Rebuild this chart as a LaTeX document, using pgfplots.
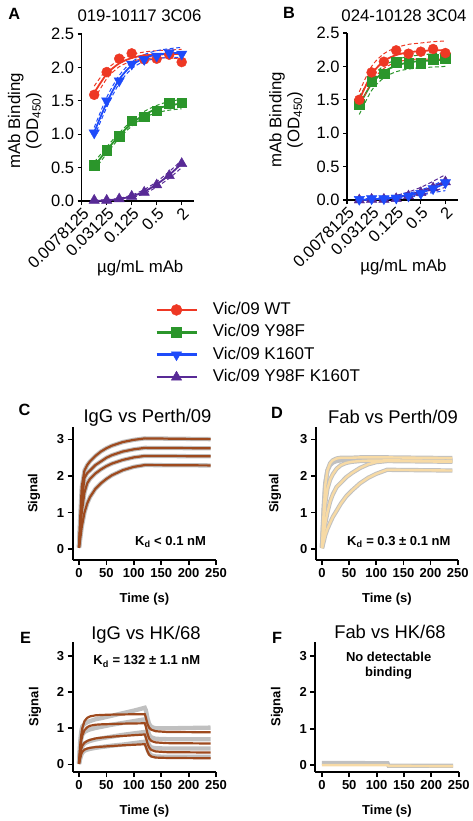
\documentclass[border=0pt]{standalone}
\usepackage{fontspec}
\setmainfont{Liberation Sans}
\usepackage{pgfplots}
\pgfplotsset{compat=1.18}
\usepackage{pgfplotstable}

\definecolor{cRed}{RGB}{238,56,36}
\definecolor{cGreen}{RGB}{43,150,43}
\definecolor{cBlue}{RGB}{30,75,250}
\definecolor{cPurple}{RGB}{88,42,150}
\definecolor{cBrown}{RGB}{158,74,30}
\definecolor{cGray}{RGB}{192,192,192}
\definecolor{cYellow}{RGB}{247,218,165}

% ---------- ELISA data ----------
\pgfplotstableread{
x        wt   y98f  k160t  dbl
0.015625 1.59 0.54  1.02   0.01
0.03125  1.93 0.76  1.50   0.01
0.0625   2.13 0.97  1.80   0.03
0.125    2.21 1.20  2.05   0.07
0.25     2.12 1.26  2.12   0.13
0.5      2.13 1.35  2.17   0.24
1        2.19 1.46  2.22   0.38
2        2.08 1.47  2.20   0.56
}\dataA
\pgfplotstableread{
x        wt   wtU  wtL  y98f y98fU y98fL k160t k160tU k160tL dbl  dblU dblL
0.015625 1.62 1.72 1.52 0.52 0.58  0.46  1.03  1.10   0.96   0.00 0.01 0.00
0.03125  1.90 1.97 1.83 0.76 0.81  0.71  1.47  1.55   1.40   0.01 0.02 0.00
0.0625   2.06 2.11 2.01 0.98 1.02  0.94  1.82  1.88   1.76   0.03 0.04 0.02
0.125    2.14 2.19 2.09 1.16 1.20  1.12  2.03  2.08   1.98   0.07 0.09 0.05
0.25     2.18 2.23 2.13 1.29 1.34  1.25  2.14  2.19   2.09   0.14 0.17 0.11
0.5      2.19 2.25 2.14 1.38 1.43  1.32  2.19  2.25   2.13   0.25 0.29 0.21
1        2.20 2.26 2.14 1.43 1.49  1.36  2.21  2.28   2.15   0.39 0.44 0.34
2        2.20 2.27 2.13 1.46 1.52  1.38  2.22  2.30   2.15   0.56 0.61 0.50
}\fitA
\pgfplotstableread{
x        wt   y98f  k160t  dbl
0.015625 1.50 1.43  0.01   0.00
0.03125  1.91 1.78  0.02   0.01
0.0625   2.07 1.89  0.02   0.01
0.125    2.24 2.06  0.03   0.02
0.25     2.19 2.05  0.06   0.06
0.5      2.22 2.05  0.10   0.11
1        2.26 2.11  0.17   0.18
2        2.20 2.12  0.26   0.27
}\dataB
\pgfplotstableread{
x        wt   wtU  wtL  y98f y98fU y98fL k160t k160tU k160tL dbl  dblU dblL
0.015625 1.50 1.62 1.38 1.42 1.55  1.28  0.00  0.01   0.00   0.00 0.01 0.00
0.03125  1.88 2.00 1.77 1.74 1.84  1.64  0.01  0.02   0.00   0.01 0.02 0.00
0.0625   2.08 2.19 1.97 1.92 2.01  1.83  0.02  0.04   0.01   0.02 0.04 0.01
0.125    2.17 2.28 2.06 2.01 2.10  1.92  0.04  0.06   0.02   0.04 0.07 0.02
0.25     2.21 2.33 2.10 2.06 2.15  1.96  0.07  0.10   0.04   0.08 0.12 0.05
0.5      2.23 2.35 2.11 2.08 2.17  1.98  0.11  0.15   0.07   0.13 0.19 0.08
1        2.24 2.37 2.11 2.09 2.19  1.99  0.17  0.22   0.11   0.20 0.28 0.13
2        2.24 2.38 2.11 2.10 2.20  2.00  0.25  0.31   0.14   0.28 0.38 0.19
}\fitB

% ---------- kinetics data ----------
\pgfplotstableread{
t   c1   c2   c3   c4
0   0.05 0.05 0.05 0.03
2   0.80 0.60 0.45 0.25
5   1.70 1.30 1.00 0.60
10  2.15 1.95 1.55 1.00
15  2.30 2.08 1.80 1.25
20  2.40 2.15 1.92 1.42
30  2.55 2.30 2.07 1.65
40  2.67 2.40 2.18 1.80
50  2.76 2.50 2.27 1.92
60  2.83 2.57 2.34 2.02
80  2.93 2.67 2.44 2.16
100 2.99 2.73 2.51 2.25
120 3.03 2.77 2.55 2.30
240 3.01 2.76 2.54 2.29
}\kinC
\pgfplotstableread{
t   d1   d2   d3   d4   gx
0   0.05 0.05 0.03 0.02 0.05
3   1.00 0.70 0.35 0.20 1.10
6   1.75 1.25 0.70 0.38 1.80
10  2.15 1.65 1.00 0.55 2.15
15  2.35 1.90 1.30 0.72 2.30
20  2.43 2.05 1.50 0.88 2.37
27  2.48 2.20 1.70 1.05 2.41
35  2.50 2.30 1.82 1.25 2.43
45  2.50 2.36 1.97 1.45 2.44
55  2.50 2.39 2.08 1.60 2.44
70  2.51 2.41 2.22 1.80 2.45
85  2.51 2.42 2.32 1.95 2.45
100 2.51 2.42 2.38 2.06 2.45
120 2.51 2.43 2.41 2.17 2.45
240 2.49 2.41 2.39 2.15 2.43
}\kinD
\pgfplotstableread{
t   e1    e2    e3   e4    g1   g2   g3   g4
0   0.05  0.03  0.02 0.01  0.05 0.03 0.02 0.01
2   0.50  0.40  0.25 0.15  0.60 0.45 0.25 0.15
4   0.80  0.65  0.42 0.28  0.90 0.70 0.40 0.25
6   1.00  0.80  0.52 0.35  1.05 0.82 0.50 0.32
10  1.20  0.95  0.60 0.41  1.12 0.90 0.58 0.38
15  1.29  1.03  0.65 0.44  1.17 0.94 0.62 0.41
20  1.33  1.07  0.68 0.46  1.20 0.97 0.65 0.43
30  1.36  1.10  0.72 0.48  1.25 1.01 0.69 0.46
40  1.37  1.11  0.74 0.49  1.28 1.04 0.72 0.48
60  1.38  1.12  0.77 0.51  1.35 1.10 0.77 0.52
80  1.385 1.13  0.79 0.53  1.42 1.15 0.82 0.55
100 1.39  1.135 0.81 0.545 1.49 1.20 0.86 0.59
120 1.39  1.14  0.83 0.56  1.57 1.25 0.90 0.63
122 1.30  1.05  0.75 0.49  1.50 1.17 0.82 0.56
125 1.12  0.85  0.58 0.36  1.28 0.97 0.64 0.41
128 1.02  0.72  0.47 0.27  1.12 0.82 0.53 0.31
132 0.96  0.65  0.40 0.22  1.04 0.75 0.47 0.25
140 0.92  0.61  0.36 0.19  1.00 0.71 0.45 0.22
160 0.90  0.59  0.34 0.18  1.00 0.70 0.44 0.21
240 0.89  0.58  0.33 0.17  1.02 0.70 0.44 0.21
}\kinE
\pgfplotstableread{
t   gr    ye
0   0.06  0.00
60  0.055 0.00
120 0.05  0.00
122 -0.02 -0.02
240 -0.02 -0.03
}\kinF

\pgfplotsset{
  elisa/.style={scale only axis, axis lines=left, axis line style={-, line width=1.3pt},
    tick align=outside, major tick length=4pt, tick style={line width=1.3pt, black},
    xminorticks=false, ymin=0, ymax=2.5, xmin=0.0078125, xmax=4,
    ytick={0,0.5,1,1.5,2,2.5},
    xtick={0.0078125,0.03125,0.125,0.5,2},
    xticklabels={0.0078125,0.03125,0.125,0.5,2},
    x tick label style={rotate=45, anchor=north east, inner sep=1pt},
    yticklabel style={/pgf/number format/fixed, /pgf/number format/fixed zerofill, /pgf/number format/precision=1},
    tick label style={font=\fontsize{16.5}{18}\selectfont},
    label style={font=\fontsize{16.8}{18}\selectfont},
    ylabel={mAb Binding\\(OD\textsubscript{450})},
    ylabel style={align=center, anchor=center},
    xlabel={µg/mL mAb},
    clip=false},
  fitl/.style={line width=1.8pt, smooth, no markers},
  cil/.style={line width=1.0pt, dash pattern=on 4pt off 2.5pt, smooth, no markers},
  kin/.style={scale only axis, axis lines=left, axis line style={-, line width=1.8pt},
    tick align=outside, major tick length=5pt, tick style={line width=1.8pt, black},
    xmax=250, xtick={0,50,100,150,200,250}, ytick={0,1,2,3},
    tick label style={font=\fontsize{13}{15}\selectfont\bfseries},
    label style={font=\fontsize{13}{15}\selectfont\bfseries},
    ylabel={Signal}, xlabel={Time (s)},
    ylabel style={anchor=center},
    xlabel style={at={(axis description cs:0.5,0)}, anchor=center, yshift=-39pt},
    clip=false},
  gline/.style={cGray, line width=4.3pt, no markers},
  bline/.style={cBrown, line width=2.2pt, no markers},
  yline/.style={cYellow, line width=2.4pt, no markers},
}

\begin{document}
\begin{tikzpicture}[x=1pt,y=1pt]
\useasboundingbox (0,0) rectangle (473,-821);

% ================= A =================
\begin{axis}[elisa, xmode=log, log basis x=2, /pgf/number format/assume math mode=true,
  at={(81.7pt,-201pt)}, anchor=south west, width=112.5pt, height=167pt,
  ylabel style={at={([xshift=-57pt]axis description cs:0,0.48)}},
  xlabel style={at={(axis description cs:0.52,0)}, anchor=center, yshift=-67pt}]
\addplot[cPurple, cil] table[x=x,y=dblU]{\fitA};
\addplot[cPurple, cil] table[x=x,y=dblL]{\fitA};
\addplot[cPurple, fitl] table[x=x,y=dbl]{\fitA};
\addplot[cPurple, only marks, mark size=6pt, mark=triangle*] table[x=x,y=dbl]{\dataA};
\addplot[cGreen, cil] table[x=x,y=y98fU]{\fitA};
\addplot[cGreen, cil] table[x=x,y=y98fL]{\fitA};
\addplot[cGreen, fitl] table[x=x,y=y98f]{\fitA};
\addplot[cGreen, only marks, mark size=4.8pt, mark=square*] table[x=x,y=y98f]{\dataA};
\addplot[cRed, cil] table[x=x,y=wtU]{\fitA};
\addplot[cRed, cil] table[x=x,y=wtL]{\fitA};
\addplot[cRed, fitl] table[x=x,y=wt]{\fitA};
\addplot[cRed, only marks, mark size=5pt, mark=*] table[x=x,y=wt]{\dataA};
\addplot[cBlue, cil] table[x=x,y=k160tU]{\fitA};
\addplot[cBlue, cil] table[x=x,y=k160tL]{\fitA};
\addplot[cBlue, fitl] table[x=x,y=k160t]{\fitA};
\addplot[cBlue, only marks, mark size=6pt, mark=triangle*, mark options={rotate=180}] table[x=x,y=k160t]{\dataA};
\end{axis}

% ================= B =================
\begin{axis}[elisa, xmode=log, log basis x=2, /pgf/number format/assume math mode=true,
  at={(347pt,-200pt)}, anchor=south west, width=110.7pt, height=167pt,
  ylabel style={at={([xshift=-61pt]axis description cs:0,0.48)}},
  xlabel style={at={(axis description cs:0.51,0)}, anchor=center, yshift=-67pt}]
\addplot[cPurple, cil] table[x=x,y=dblU]{\fitB};
\addplot[cPurple, cil] table[x=x,y=dblL]{\fitB};
\addplot[cPurple, fitl] table[x=x,y=dbl]{\fitB};
\addplot[cPurple, only marks, mark size=6pt, mark=triangle*] table[x=x,y=dbl]{\dataB};
\addplot[cBlue, cil] table[x=x,y=k160tU]{\fitB};
\addplot[cBlue, cil] table[x=x,y=k160tL]{\fitB};
\addplot[cBlue, fitl] table[x=x,y=k160t]{\fitB};
\addplot[cBlue, only marks, mark size=6pt, mark=triangle*, mark options={rotate=180}] table[x=x,y=k160t]{\dataB};
\addplot[cGreen, cil] table[x=x,y=y98fU]{\fitB};
\addplot[cGreen, cil] table[x=x,y=y98fL]{\fitB};
\addplot[cGreen, fitl] table[x=x,y=y98f]{\fitB};
\addplot[cGreen, only marks, mark size=4.8pt, mark=square*] table[x=x,y=y98f]{\dataB};
\addplot[cRed, cil] table[x=x,y=wtU]{\fitB};
\addplot[cRed, cil] table[x=x,y=wtL]{\fitB};
\addplot[cRed, fitl] table[x=x,y=wt]{\fitB};
\addplot[cRed, only marks, mark size=5pt, mark=*] table[x=x,y=wt]{\dataB};
\end{axis}

% ================= Legend =================
\begin{axis}[hide axis, scale only axis, width=10pt, height=10pt,
  at={(155pt,-301pt)}, anchor=north west, xmin=0, xmax=1, ymin=0, ymax=1,
  legend cell align=left,
  legend image code/.code={\draw[mark repeat=2, mark phase=2, #1] plot coordinates {(0pt,0pt) (20pt,0pt) (40pt,0pt)};},
  legend style={draw=none, fill=none, at={(0,1)}, anchor=north west, inner sep=0pt,
    column sep=14pt, row sep=4.9pt,
    nodes={inner sep=1pt, text height=12pt, text depth=3.5pt},
    font=\fontsize{17}{19}\selectfont}]
\addlegendimage{cRed, line width=2.6pt, mark=*, mark size=5.5pt, mark options={line width=0.4pt}}
\addlegendentry{Vic/09 WT}
\addlegendimage{cGreen, line width=2.6pt, mark=square*, mark size=5pt, mark options={line width=0.4pt}}
\addlegendentry{Vic/09 Y98F}
\addlegendimage{cBlue, line width=2.6pt, mark=triangle*, mark size=6pt, mark options={line width=0.4pt, rotate=180}}
\addlegendentry{Vic/09 K160T}
\addlegendimage{cPurple, line width=2.6pt, mark=triangle*, mark size=6pt, mark options={line width=0.4pt}}
\addlegendentry{Vic/09 Y98F K160T}
\end{axis}

% ================= C =================
\begin{axis}[kin, /pgf/number format/assume math mode=true,
  at={(72.7pt,-560pt)}, anchor=south west, width=143.3pt, height=133.3pt,
  xmin=-11.5, ymin=-0.3, ymax=3.35,
  ylabel style={at={([xshift=-38.7pt]axis description cs:0,0.5)}}]
\addplot[gline] table[x=t,y=c1]{\kinC};
\addplot[gline] table[x=t,y=c2]{\kinC};
\addplot[gline] table[x=t,y=c3]{\kinC};
\addplot[gline] table[x=t,y=c4]{\kinC};
\addplot[bline] table[x=t,y=c1]{\kinC};
\addplot[bline] table[x=t,y=c2]{\kinC};
\addplot[bline] table[x=t,y=c3]{\kinC};
\addplot[bline] table[x=t,y=c4]{\kinC};
\node[anchor=east, font=\fontsize{13}{15}\selectfont\bfseries] at (axis cs:238,0.2) {K\textsubscript{d} < 0.1 nM};
\end{axis}

% ================= D =================
\begin{axis}[kin, /pgf/number format/assume math mode=true,
  at={(316pt,-560pt)}, anchor=south west, width=141.7pt, height=133.3pt,
  xmin=-11, ymin=-0.3, ymax=3.35,
  ylabel style={at={([xshift=-41pt]axis description cs:0,0.5)}}]
\addplot[gline] table[x=t,y=gx]{\kinD};
\addplot[gline] table[x=t,y=d1]{\kinD};
\addplot[gline] table[x=t,y=d2]{\kinD};
\addplot[gline] table[x=t,y=d3]{\kinD};
\addplot[gline] table[x=t,y=d4]{\kinD};
\addplot[yline] table[x=t,y=d1]{\kinD};
\addplot[yline] table[x=t,y=d2]{\kinD};
\addplot[yline] table[x=t,y=d3]{\kinD};
\addplot[yline] table[x=t,y=d4]{\kinD};
\node[anchor=east, font=\fontsize{13}{15}\selectfont\bfseries] at (axis cs:243,0.2) {K\textsubscript{d} = 0.3 ± 0.1 nM};
\end{axis}

% ================= E =================
\begin{axis}[kin, /pgf/number format/assume math mode=true,
  at={(72.7pt,-772pt)}, anchor=south west, width=143.3pt, height=130.3pt,
  xmin=-11.5, ymin=-0.21, ymax=3.4,
  ylabel style={at={([xshift=-37.7pt]axis description cs:0,0.5)}}]
\addplot[gline] table[x=t,y=g1]{\kinE};
\addplot[gline] table[x=t,y=g2]{\kinE};
\addplot[gline] table[x=t,y=g3]{\kinE};
\addplot[gline] table[x=t,y=g4]{\kinE};
\addplot[bline] table[x=t,y=e1]{\kinE};
\addplot[bline] table[x=t,y=e2]{\kinE};
\addplot[bline] table[x=t,y=e3]{\kinE};
\addplot[bline] table[x=t,y=e4]{\kinE};
\node[anchor=west, font=\fontsize{13}{15}\selectfont\bfseries] at (axis cs:20,2.85) {K\textsubscript{d} = 132 ± 1.1 nM};
\end{axis}

% ================= F =================
\begin{axis}[kin, /pgf/number format/assume math mode=true,
  at={(315.3pt,-772pt)}, anchor=south west, width=143.4pt, height=130.3pt,
  xmin=-12, ymin=-0.19, ymax=3.39,
  ylabel style={at={([xshift=-38.3pt]axis description cs:0,0.5)}}]
\addplot[gline] table[x=t,y=gr]{\kinF};
\addplot[yline] table[x=t,y=ye]{\kinF};
\node[align=center, font=\fontsize{13}{15}\selectfont\bfseries] at (axis cs:122,2.72) {No detectable\\binding};
\end{axis}

% ================= titles and panel letters =================
\begin{scope}[every node/.style={inner sep=0pt}]
\node[anchor=base, font=\fontsize{16.8}{18}\selectfont] at (139.5,-22) {019-10117 3C06};
\node[anchor=base, font=\fontsize{16.8}{18}\selectfont] at (404,-22) {024-10128 3C04};
\node[anchor=base, font=\fontsize{18.4}{20}\selectfont] at (147.5,-422.3) {IgG vs Perth/09};
\node[anchor=base, font=\fontsize{18.4}{20}\selectfont] at (393,-423.3) {Fab vs Perth/09};
\node[anchor=base, font=\fontsize{18.4}{20}\selectfont] at (146,-639.3) {IgG vs HK/68};
\node[anchor=base, font=\fontsize{18.4}{20}\selectfont] at (390,-638.3) {Fab vs HK/68};
\node[anchor=base west, font=\fontsize{16.3}{18}\selectfont\bfseries] at (8.3,-20) {A};
\node[anchor=base west, font=\fontsize{16.3}{18}\selectfont\bfseries] at (283,-18.3) {B};
\node[anchor=base west, font=\fontsize{16.3}{18}\selectfont\bfseries] at (18.3,-415) {C};
\node[anchor=base west, font=\fontsize{16.3}{18}\selectfont\bfseries] at (271,-418.3) {D};
\node[anchor=base west, font=\fontsize{16.3}{18}\selectfont\bfseries] at (20,-643.3) {E};
\node[anchor=base west, font=\fontsize{16.3}{18}\selectfont\bfseries] at (272,-643.3) {F};
\end{scope}
\end{tikzpicture}
\end{document}
